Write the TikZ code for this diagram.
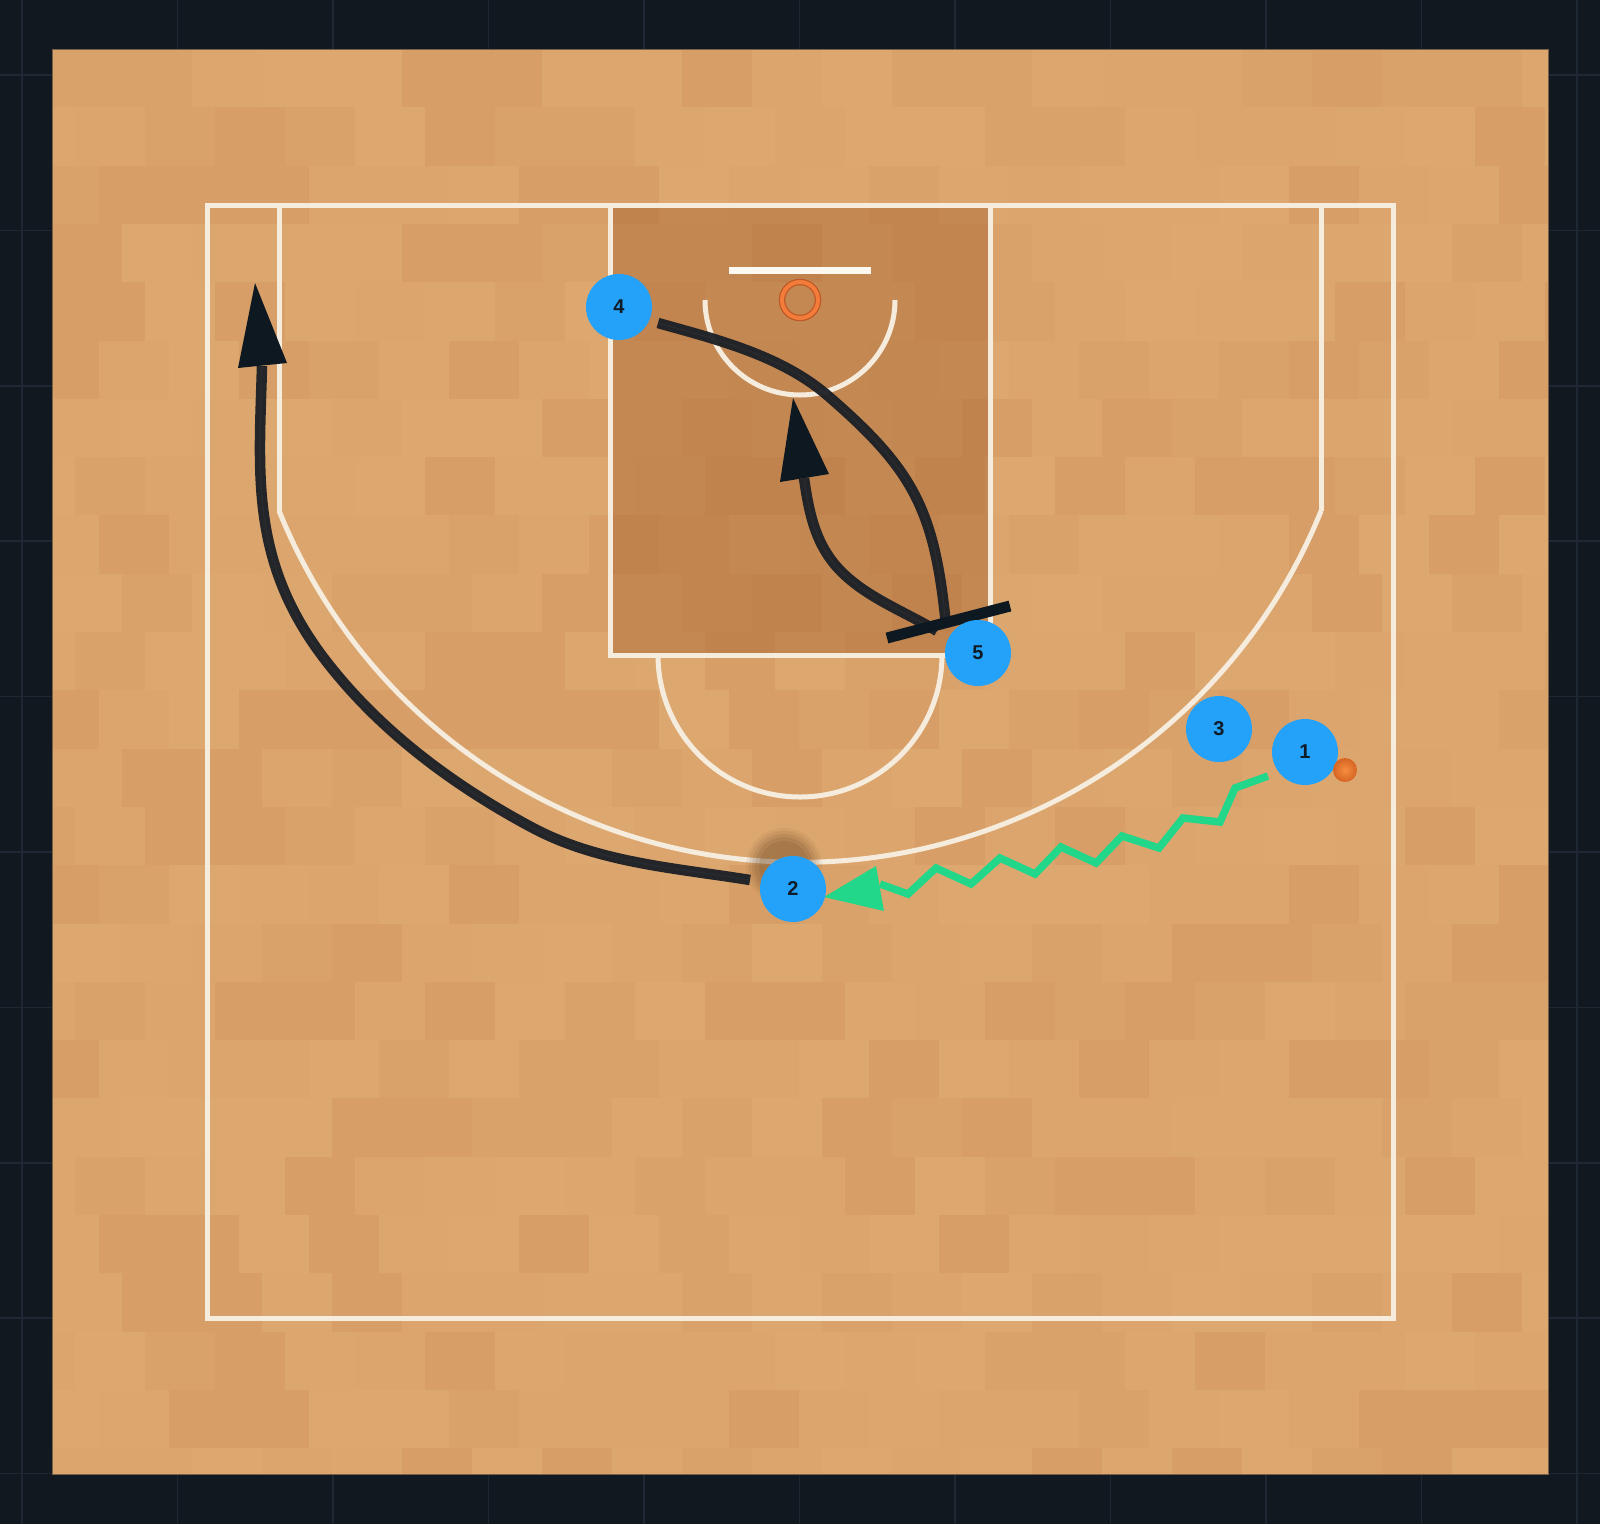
\documentclass[tikz,border=0pt]{standalone}
\usepackage{fontspec}
\setmainfont{Liberation Sans}
\definecolor{bgdark}{RGB}{17,24,32}
\definecolor{gridc}{RGB}{29,40,52}
\definecolor{wood0}{RGB}{221,168,112}
\definecolor{wood1}{RGB}{219,165,109}
\definecolor{wood2}{RGB}{217,162,106}
\definecolor{wood3}{RGB}{215,159,103}
\definecolor{wood4}{RGB}{220,167,110}
\definecolor{courtedge}{RGB}{120,96,72}
\definecolor{linec}{RGB}{246,236,222}
\definecolor{paintc}{RGB}{160,90,40}
\definecolor{player}{RGB}{36,162,250}
\definecolor{numc}{RGB}{16,27,40}
\definecolor{runc}{RGB}{26,31,37}
\definecolor{runmid}{RGB}{44,50,56}
\definecolor{tipc}{RGB}{14,24,32}
\definecolor{dribc}{RGB}{34,214,138}
\definecolor{rimc}{RGB}{244,124,58}
\definecolor{rimd}{RGB}{190,88,38}
\definecolor{ballin}{RGB}{246,142,62}
\definecolor{ballout}{RGB}{214,100,36}
\definecolor{shadowc}{RGB}{110,72,38}
\definecolor{boardc}{RGB}{252,248,242}
\begin{document}
\begin{tikzpicture}[x=1pt,y=-1pt,
  courtline/.style={draw=linec, line width=5pt},
  playerdot/.style={circle, fill=player, minimum size=66pt, inner sep=0pt, text=numc, font=\fontsize{20}{22}\selectfont\bfseries},
  run/.style={draw=runc, line width=10.5pt, opacity=0.95, line join=round},
  runcore/.style={draw=runmid, line width=1.2pt, opacity=0.6},
  tiphead/.style={fill=tipc},
  screenbar/.style={draw=tipc, line width=11pt},
  dribble/.style={draw=dribc, line width=7.5pt, line join=miter},
]
\useasboundingbox (0,0) rectangle (1600,1524);
\fill[bgdark] (0,0) rectangle (1600,1524);
\foreach \k in {0,...,10} {
  \draw[gridc, line width=1.5pt] ({22+155.5*\k},0) -- ({22+155.5*\k},1524);
}
\foreach \k in {0,...,9} {
  \draw[gridc, line width=1.5pt] (0,{75+155.4*\k}) -- (1600,{75+155.4*\k});
}
% wood floor
\begin{scope}
\clip (52,49) rectangle (1548,1474);
\pgfmathsetseed{7}
\foreach \j in {0,...,24} {
  \foreach \i in {-1,...,21} {
    \pgfmathrandominteger{\r}{0}{4}
    \pgfmathsetmacro{\xx}{52+70*\i+23.33*mod(\j,3)}
    \fill[fill=wood\r] (\xx,{49+58.3*\j}) rectangle ({\xx+70.3},{49+58.3*(\j+1)+0.4});
  }
}
\end{scope}
\draw[courtedge, line width=1pt] (52,49) rectangle (1548,1474);
% paint
\fill[paintc, opacity=0.4] (610,205) rectangle (990,655);
% court lines
\draw[courtline] (207,205) rectangle (1393,1318);
\draw[courtline] (610,205) -- (610,655) -- (990,655) -- (990,205);
\draw[courtline] (279,205) -- (279,510.7);
\draw[courtline] (1321,205) -- (1321,510.7);
\draw[courtline] (279,510.7) arc[start angle=202, end angle=338, radius=562pt];
\draw[courtline] (705,300) arc[start angle=180, end angle=360, radius=95pt];
\draw[courtline] (658,655) arc[start angle=180, end angle=360, radius=142pt];
% backboard and rim
\draw[boardc, line width=7pt] (729,270) -- (871,270);
\draw[rimd, line width=6.5pt] (800,300) circle[radius=18pt];
\draw[rimc, line width=4pt] (800,300) circle[radius=18pt];
% shadow
\foreach \rr/\oo in {38/0.08, 35/0.1, 32/0.12, 29/0.14, 25/0.15} {
  \fill[shadowc, opacity=\oo] (784,866) circle[radius=\rr pt];
}
% path end points
\coordinate (a0) at (750,880);
\coordinate (a1) at (533,828);
\coordinate (a2) at (330,666);
\coordinate (a3) at (262,366);
\coordinate (c0) at (658,323);
\coordinate (c1) at (827,395);
\coordinate (c2) at (946,625);
\coordinate (b0) at (937,631);
\coordinate (bm) at (847,577);
\coordinate (b1) at (804,478);
\coordinate (s0) at (887,638);
\coordinate (s1) at (1010,606);
% runs
\foreach \sty in {run, runcore} {
  \draw[\sty] (a0) .. controls (676,868) and (599,863) .. (a1)
             .. controls (456,787) and (384,734) .. (a2)
             .. controls (249,565) and (259,476) .. (a3);
  \draw[\sty] (c0) .. controls (717,339.5) and (780.6,355.4) .. (c1)
             .. controls (914,470) and (934.5,510) .. (c2);
  \draw[\sty] (b0) .. controls (907,613) and (873,600) .. (bm)
             .. controls (817,550.6) and (809.6,517.6) .. (b1);
}
\fill[tiphead] (255,283) -- (238,368) -- (287,363) -- cycle;
\fill[tiphead] (793,398) -- (780,482) -- (829,474) -- cycle;
\draw[screenbar] (s0) -- (s1);
% dribble
\draw[dribble] (1268,776) -- (1235,788) -- (1220,822) -- (1183,818) -- (1159,848) -- (1122,836) -- (1096,863) -- (1061,847) -- (1035,874) -- (1000,858) -- (971,884) -- (936,868) -- (908,894) -- (880,884);
\fill[dribc] (824,897) -- (876,866) -- (884,911) -- cycle;
% players
\node[playerdot] (p4) at (619,307) {4};
\node[playerdot] (p5) at (978,653) {5};
\node[playerdot] (p3) at (1219,729) {3};
\node[playerdot] (p1) at (1305,752) {1};
\node[playerdot] (p2) at (793,889) {2};
\node[circle, minimum size=24pt, inner sep=0pt, inner color=ballin, outer color=ballout] (ball) at (1345,770) {};
\end{tikzpicture}
\end{document}
